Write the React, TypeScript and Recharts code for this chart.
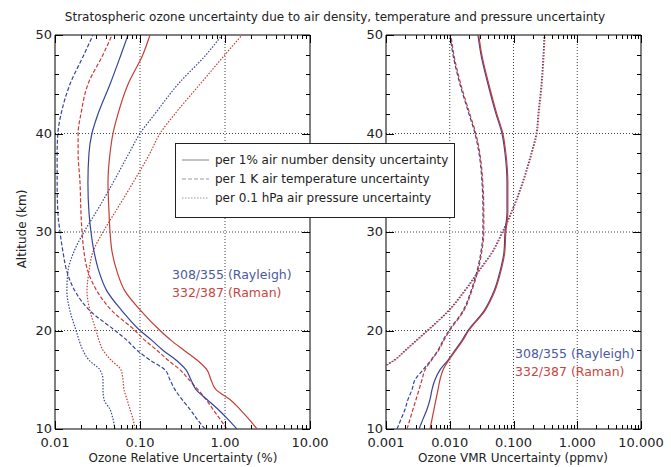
import React from 'react';
import { ScatterChart, Scatter, XAxis, YAxis, ReferenceLine } from 'recharts';

const BLUE = '#36459a';
const RED = '#c53d35';
const FONT = '"DejaVu Sans", sans-serif';

// altitude grid (km), shared by most profiles
const ALT = [10, 11, 12, 13, 14, 15, 16, 17, 18, 19, 20, 22, 24, 26, 28, 30, 32, 35, 38, 40, 42, 45, 48, 50];
// pressure profile in right panel leaves the axis near 16.5 km
const ALT_P = [16.5, 17, 18, 19, 20, 22, 24, 26, 28, 30, 32, 35, 38, 40, 42, 45, 48, 50];

// left panel: ozone relative uncertainty (%)
const relDensityBlue = [1.38, 1.08, 0.827, 0.614, 0.456, 0.398, 0.348, 0.265, 0.186, 0.138, 0.1, 0.0614, 0.0409, 0.0329, 0.0288, 0.0265, 0.0251, 0.0244, 0.0251, 0.0272, 0.0321, 0.0444, 0.0597, 0.0723];
const relDensityRed = [2.38, 1.91, 1.5, 1.145, 0.783, 0.684, 0.614, 0.469, 0.329, 0.232, 0.172, 0.1027, 0.0666, 0.0536, 0.0469, 0.0444, 0.0432, 0.042, 0.0444, 0.0481, 0.0551, 0.0723, 0.108, 0.131];
const relTempBlue = [0.582, 0.469, 0.387, 0.312, 0.258, 0.225, 0.197, 0.131, 0.0922, 0.0703, 0.0508, 0.0258, 0.0172, 0.0138, 0.0124, 0.01145, 0.0108, 0.0106, 0.0106, 0.0108, 0.0118, 0.015, 0.0219, 0.028];
const relTempRed = [1.056, 0.874, 0.722, 0.598, 0.481, 0.377, 0.296, 0.213, 0.158, 0.1145, 0.0873, 0.0469, 0.0312, 0.0244, 0.0219, 0.0208, 0.0202, 0.0197, 0.0187, 0.0187, 0.0202, 0.0244, 0.0367, 0.0469];
const relPresBlue = [0.0508, 0.0481, 0.0444, 0.0377, 0.0367, 0.0367, 0.0338, 0.0251, 0.0213, 0.0192, 0.0177, 0.015, 0.0138, 0.0142, 0.0167, 0.0219, 0.0304, 0.0481, 0.0743, 0.1, 0.15, 0.28, 0.6, 0.922];
const relPresRed = [0.0873, 0.0827, 0.0763, 0.0703, 0.0648, 0.0631, 0.0597, 0.0456, 0.0367, 0.0329, 0.0304, 0.0258, 0.0238, 0.0251, 0.028, 0.0367, 0.0508, 0.0827, 0.131, 0.172, 0.258, 0.508, 1.0, 1.585];

// right panel: ozone VMR uncertainty (ppmv)
const vmrTempBlue = [0.00149, 0.00172, 0.00199, 0.00221, 0.00256, 0.00285, 0.0038, 0.00508, 0.00654, 0.00784, 0.00973, 0.01614, 0.0215, 0.0267, 0.0309, 0.0332, 0.0332, 0.0321, 0.0288, 0.0249, 0.02, 0.01448, 0.01125, 0.01009];
const vmrTempRed = [0.00214, 0.00238, 0.00265, 0.00296, 0.0033, 0.00367, 0.00409, 0.0052, 0.0067, 0.0081, 0.01, 0.0166, 0.0221, 0.0275, 0.0318, 0.0342, 0.0342, 0.033, 0.0296, 0.0256, 0.0206, 0.0149, 0.0116, 0.0104];
const vmrDensityBlue = [0.0033, 0.0038, 0.0044, 0.0049, 0.00527, 0.00587, 0.00703, 0.0094, 0.01209, 0.01556, 0.0193, 0.0345, 0.0494, 0.0614, 0.071, 0.0736, 0.0791, 0.0791, 0.0736, 0.066, 0.0531, 0.0398, 0.0309, 0.0277];
const vmrDensityRed = [0.0049, 0.00527, 0.00566, 0.00608, 0.00654, 0.00703, 0.00784, 0.0097, 0.0125, 0.016, 0.0199, 0.0355, 0.0509, 0.0632, 0.0731, 0.0758, 0.0815, 0.0815, 0.0758, 0.068, 0.0547, 0.041, 0.0318, 0.0285];
const vmrPresBlue = [0.00101, 0.00134, 0.002, 0.00297, 0.00442, 0.00944, 0.0168, 0.0279, 0.0463, 0.0663, 0.0919, 0.137, 0.189, 0.227, 0.243, 0.272, 0.292, 0.303];
const vmrPresRed = [0.00104, 0.00138, 0.00206, 0.00306, 0.00456, 0.00973, 0.01735, 0.0288, 0.0477, 0.0684, 0.0947, 0.141, 0.195, 0.234, 0.251, 0.28, 0.301, 0.312];

const ALT_TICKS = [10, 12, 14, 16, 18, 20, 22, 24, 26, 28, 30, 32, 34, 36, 38, 40, 42, 44, 46, 48, 50];
const ALT_MAJOR = [10, 20, 30, 40, 50];
const ALT_GRID = [20, 30, 40];
const LEFT_DECADES = [0.01, 0.1, 1, 10];
const RIGHT_DECADES = [0.001, 0.01, 0.1, 1, 10];
const MULT = [1, 2, 3, 4, 5, 6, 7, 8, 9];

const PW = 255;
const PH = 394;
const TOP = 35;
const YW = 40; // left y axis band
const XH = 30; // bottom x axis band
const DASH = { solid: undefined, dashed: '4 2', dotted: '1.5 1.5' } as any;

const pts = (alts: number[], vals: number[]) => alts.map((a, i) => ({ alt: a, v: vals[i] }));
const minorTicks = (decades: number[]) => {
  const out: number[] = [];
  decades.forEach((d, i) => {
    if (i === decades.length - 1) out.push(d);
    else MULT.forEach((m) => out.push(+(d * m).toPrecision(3)));
  });
  return out;
};
const isMajor = (decades: number[], v: number) => decades.some((d) => Math.abs(d - v) / d < 1e-6);

function XTick({ x, y, payload, decades, decimals }: any) {
  if (!isMajor(decades, payload.value)) return <g />;
  return (
    <text x={x} y={y + 18} textAnchor="middle" fontSize={13} fontFamily={FONT} fill="#222">
      {payload.value.toFixed(decimals)}
    </text>
  );
}

function YTick({ x, y, payload }: any) {
  if (!ALT_MAJOR.includes(payload.value)) return <g />;
  return (
    <text x={x - 3} y={y + 4} textAnchor="end" fontSize={13} fontFamily={FONT} fill="#222">
      {payload.value}
    </text>
  );
}

// inward tick marks on all four sides of a panel frame
function FrameTicks({ x0, decades }: any) {
  const lo = Math.log10(decades[0]);
  const span = Math.log10(decades[decades.length - 1]) - lo;
  const marks: any[] = [];
  minorTicks(decades).forEach((t, i) => {
    const x = Math.round(x0 + (PW * (Math.log10(t) - lo)) / span) + 0.5;
    const len = isMajor(decades, t) ? 8 : 4;
    marks.push(<line key={'b' + i} x1={x} x2={x} y1={TOP + PH} y2={TOP + PH - len} />);
    marks.push(<line key={'t' + i} x1={x} x2={x} y1={TOP} y2={TOP + len} />);
  });
  ALT_TICKS.forEach((a, i) => {
    const y = Math.round(TOP + (PH * (50 - a)) / 40) + 0.5;
    const len = ALT_MAJOR.includes(a) ? 8 : 4;
    marks.push(<line key={'l' + i} x1={x0} x2={x0 + len} y1={y} y2={y} />);
    marks.push(<line key={'r' + i} x1={x0 + PW} x2={x0 + PW - len} y1={y} y2={y} />);
  });
  return <g stroke="#000" strokeWidth={1}>{marks}</g>;
}

function Panel({ left, width, ml, decades, decimals, series }: any) {
  const domain = [decades[0], decades[decades.length - 1]];
  return (
    <div style={{ position: 'absolute', left, top: 0 }}>
      <ScatterChart
        width={width}
        height={467}
        margin={{ top: TOP, left: ml - YW, right: width - ml - PW, bottom: 467 - TOP - PH - XH }}
      >
        <XAxis
          type="number"
          dataKey="v"
          scale="log"
          domain={domain}
          allowDataOverflow
          ticks={minorTicks(decades)}
          interval={0}
          height={XH}
          tickSize={0}
          tickMargin={0}
          tickLine={false}
          axisLine={{ stroke: '#000' }}
          tick={(p: any) => <XTick {...p} decades={decades} decimals={decimals} />}
        />
        <YAxis
          type="number"
          dataKey="alt"
          domain={[10, 50]}
          allowDataOverflow
          ticks={ALT_TICKS}
          interval={0}
          width={YW}
          tickSize={0}
          tickMargin={0}
          tickLine={false}
          axisLine={{ stroke: '#000' }}
          tick={(p: any) => <YTick {...p} />}
        />
        {ALT_GRID.map((a) => (
          <ReferenceLine key={'h' + a} y={a} stroke="#444" strokeDasharray="1 2" />
        ))}
        {decades.slice(1, -1).map((d: number) => (
          <ReferenceLine key={'v' + d} x={d} stroke="#444" strokeDasharray="1 2" />
        ))}
        <ReferenceLine y={50} stroke="#000" />
        <ReferenceLine x={domain[1]} stroke="#000" />
        {series.map((s: any, i: number) => (
          <Scatter
            key={i}
            data={s.data}
            fill={s.color}
            line={{ stroke: s.color, strokeWidth: 1.2, strokeDasharray: DASH[s.dash] }}
            lineJointType="monotoneY"
            shape={() => <g />}
            isAnimationActive={false}
          />
        ))}
      </ScatterChart>
    </div>
  );
}

const leftSeries = [
  { data: pts(ALT, relPresBlue), color: BLUE, dash: 'dotted' },
  { data: pts(ALT, relPresRed), color: RED, dash: 'dotted' },
  { data: pts(ALT, relTempBlue), color: BLUE, dash: 'dashed' },
  { data: pts(ALT, relTempRed), color: RED, dash: 'dashed' },
  { data: pts(ALT, relDensityBlue), color: BLUE, dash: 'solid' },
  { data: pts(ALT, relDensityRed), color: RED, dash: 'solid' },
];

const rightSeries = [
  { data: pts(ALT_P, vmrPresBlue), color: BLUE, dash: 'dotted' },
  { data: pts(ALT_P, vmrPresRed), color: RED, dash: 'dotted' },
  { data: pts(ALT, vmrTempBlue), color: BLUE, dash: 'dashed' },
  { data: pts(ALT, vmrTempRed), color: RED, dash: 'dashed' },
  { data: pts(ALT, vmrDensityBlue), color: BLUE, dash: 'solid' },
  { data: pts(ALT, vmrDensityRed), color: RED, dash: 'solid' },
];

export default function App() {
  return (
    <div style={{ position: 'absolute', left: 0, top: 0, width: 671, height: 467, background: '#fff', overflow: 'hidden' }}>
      <Panel left={0} width={330} ml={55} decades={LEFT_DECADES} decimals={2} series={leftSeries} />
      <Panel left={330} width={341} ml={56} decades={RIGHT_DECADES} decimals={3} series={rightSeries} />
      <svg width={671} height={467} style={{ position: 'absolute', left: 0, top: 0, pointerEvents: 'none' }} fontFamily={FONT}>
        <FrameTicks x0={55} decades={LEFT_DECADES} />
        <FrameTicks x0={386} decades={RIGHT_DECADES} />
        <text x={335} y={21} textAnchor="middle" fontSize={12} fill="#222">
          Stratospheric ozone uncertainty due to air density, temperature and pressure uncertainty
        </text>
        <text x={26} y={229} textAnchor="middle" fontSize={12} fill="#222" transform="rotate(-90 26 229)">
          Altitude (km)
        </text>
        <text x={183} y={462} textAnchor="middle" fontSize={12} fill="#222">Ozone Relative Uncertainty (%)</text>
        <text x={513} y={462} textAnchor="middle" fontSize={12} fill="#222">Ozone VMR Uncertainty (ppmv)</text>
        <text x={172} y={279} fontSize={12.5} fill="#4a5a9e">308/355 (Rayleigh)</text>
        <text x={172} y={297} fontSize={12.5} fill="#c4483f">332/387 (Raman)</text>
        <text x={515} y={358} fontSize={12.5} fill="#4a5a9e">308/355 (Rayleigh)</text>
        <text x={515} y={376} fontSize={12.5} fill="#c4483f">332/387 (Raman)</text>
        <rect x={175.5} y={143.5} width={279} height={74} fill="#fff" stroke="#222" />
        <line x1={182} x2={209} y1={160} y2={160} stroke="#999" strokeWidth={1.2} />
        <line x1={182} x2={209} y1={179} y2={179} stroke="#999" strokeWidth={1.2} strokeDasharray="4 2" />
        <line x1={182} x2={209} y1={198} y2={198} stroke="#999" strokeWidth={1.2} strokeDasharray="1.5 1.5" />
        <text x={215} y={164} fontSize={12} fill="#222">per 1% air number density uncertainty</text>
        <text x={215} y={183} fontSize={12} fill="#222">per 1 K air temperature uncertainty</text>
        <text x={215} y={202} fontSize={12} fill="#222">per 0.1 hPa air pressure uncertainty</text>
      </svg>
    </div>
  );
}
